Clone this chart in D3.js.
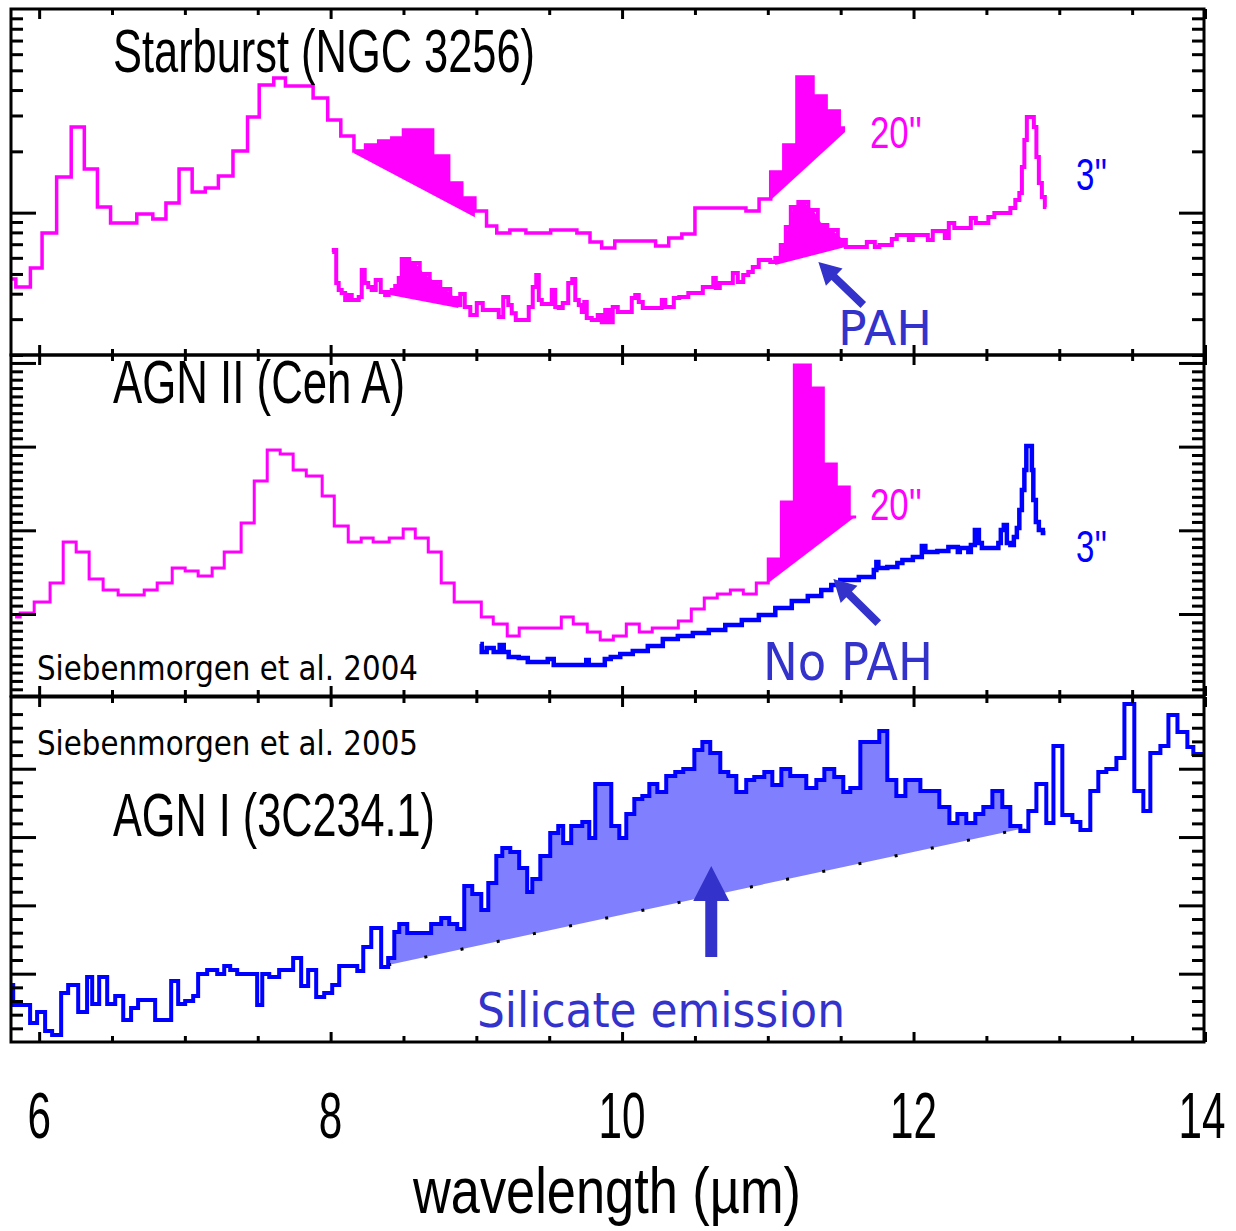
<!DOCTYPE html>
<html>
<head>
<meta charset="utf-8">
<script src="https://cdn.jsdelivr.net/npm/d3@7"></script>
<style>
  body { margin: 0; background: #fff; }
  svg { display: block; }
</style>
</head>
<body>
<svg id="chart" width="1236" height="1231"></svg>
<script>
// ---------------------------------------------------------------
// Mid-infrared spectra: Starburst (NGC 3256), AGN II (Cen A), AGN I (3C234.1)
// wavelength in micron, flux in arbitrary units per panel
// ---------------------------------------------------------------

// x-axis labels
const wavelengthTicks = [6, 8, 10, 12, 14];

// --- Panel 1: Starburst NGC 3256, 20" aperture (binned, log flux) ---
const sb20Edges = [5.81, 5.84, 5.94, 6.02, 6.12, 6.22, 6.31, 6.40, 6.49, 6.67, 6.78, 6.87, 6.96, 7.05,
  7.14, 7.23, 7.33, 7.43, 7.51, 7.61, 7.69, 7.88, 7.98, 8.07, 8.16, 8.24, 8.33, 8.42, 8.50, 8.70,
  8.81, 8.90, 8.99, 9.07, 9.14, 9.23, 9.34, 9.51, 9.69, 9.78, 9.86, 9.95, 10.23, 10.32, 10.41,
  10.50, 10.85, 10.94, 11.02, 11.11, 11.20, 11.31, 11.40, 11.49, 11.53];
const sb20Flux = [0.472, 0.431, 0.535, 0.795, 1.497, 2.634, 1.638, 1.066, 0.890, 0.985, 0.931, 1.115,
  1.638, 1.263, 1.321, 1.514, 2.008, 2.949, 4.234, 4.584, 4.186, 3.656, 2.851, 2.379, 2.008, 2.149,
  2.247, 2.325, 2.546, 1.897, 1.398, 1.180, 1.019, 0.860, 0.795, 0.822, 0.795, 0.822, 0.795, 0.718,
  0.671, 0.726, 0.686, 0.751, 0.786, 1.054, 1.019, 1.167, 1.584, 2.149, 4.636, 3.740, 3.156, 2.604];
// PAH bands on the 20" spectrum: [start, end] wavelength and continuum flux at each end
const sb20PahStart = [8.16, 11.02];
const sb20PahEnd = [8.99, 11.53];
const sb20ContStart = [1.96, 1.154];
const sb20ContEnd = [0.95, 2.489];

// Starburst NGC 3256, 3" aperture
const sb3Wave = [8.011, 8.032, 8.045, 8.066, 8.086, 8.114, 8.135, 8.155, 8.183, 8.203, 8.224, 8.244,
  8.272, 8.292, 8.327, 8.361, 8.388, 8.409, 8.430, 8.457, 8.478, 8.498, 8.581, 8.642, 8.718, 8.787,
  8.855, 8.876, 8.903, 8.938, 8.979, 9.027, 9.061, 9.143, 9.164, 9.205, 9.233, 9.253, 9.288, 9.349,
  9.370, 9.404, 9.418, 9.439, 9.459, 9.507, 9.528, 9.555, 9.576, 9.610, 9.651, 9.665, 9.693, 9.713,
  9.734, 9.747, 9.768, 9.816, 9.850, 9.871, 9.898, 9.919, 9.953, 9.988, 10.056, 10.077, 10.104,
  10.125, 10.159, 10.262, 10.283, 10.310, 10.345, 10.365, 10.420, 10.489, 10.537, 10.571, 10.619,
  10.633, 10.653, 10.688, 10.743, 10.777, 10.811, 10.852, 10.880, 10.914, 10.962, 11.003, 11.031,
  11.072, 11.106, 11.141, 11.175, 11.244, 11.312, 11.374, 11.443, 11.518, 11.553, 11.669, 11.690,
  11.724, 11.745, 11.786, 11.841, 11.861, 11.909, 11.957, 11.978, 12.012, 12.081, 12.115, 12.149,
  12.204, 12.225, 12.259, 12.300, 12.376, 12.410, 12.445, 12.500, 12.527, 12.582, 12.651, 12.678,
  12.719, 12.733, 12.754, 12.767, 12.788, 12.815, 12.836, 12.850, 12.870, 12.891, 12.911];
const sb3Flux = [0.641, 0.656, 0.451, 0.417, 0.403, 0.372, 0.394, 0.372, 0.372, 0.385, 0.523, 0.451,
  0.431, 0.417, 0.467, 0.408, 0.394, 0.408, 0.417, 0.436, 0.478, 0.592, 0.566, 0.500, 0.456, 0.422,
  0.381, 0.352, 0.399, 0.344, 0.314, 0.360, 0.333, 0.333, 0.307, 0.385, 0.352, 0.321, 0.297, 0.297,
  0.344, 0.431, 0.494, 0.372, 0.356, 0.356, 0.417, 0.344, 0.340, 0.360, 0.451, 0.472, 0.372, 0.352,
  0.325, 0.364, 0.304, 0.297, 0.314, 0.290, 0.333, 0.290, 0.344, 0.325, 0.325, 0.381, 0.394, 0.364,
  0.340, 0.340, 0.372, 0.344, 0.344, 0.381, 0.385, 0.403, 0.403, 0.431, 0.431, 0.478, 0.427, 0.451,
  0.451, 0.505, 0.456, 0.494, 0.511, 0.541, 0.586, 0.586, 0.573, 0.599, 0.694, 0.850, 1.066, 1.128,
  1.030, 0.870, 0.822, 0.734, 0.678, 0.678, 0.718, 0.718, 0.678, 0.694, 0.694, 0.742, 0.777, 0.777,
  0.734, 0.777, 0.777, 0.734, 0.813, 0.813, 0.751, 0.890, 0.841, 0.841, 0.941, 0.890, 0.890, 0.952,
  0.996, 0.996, 1.054, 1.154, 1.249, 1.676, 2.274, 2.949, 2.949, 2.634, 1.876, 1.398, 1.193, 1.066];
const sb3PahStart = [8.409, 11.051];
const sb3PahEnd = [8.876, 11.532];
const sb3ContStart = [0.394, 0.553];
const sb3ContEnd = [0.340, 0.678];

// --- Panel 2: AGN II Cen A, 20" aperture (binned) ---
const cen20Edges = [5.835, 5.870, 5.966, 6.075, 6.165, 6.254, 6.343, 6.439, 6.542, 6.721, 6.810,
  6.913, 7.002, 7.091, 7.187, 7.270, 7.386, 7.476, 7.565, 7.654, 7.743, 7.833, 7.942, 8.025, 8.121,
  8.210, 8.292, 8.402, 8.498, 8.581, 8.670, 8.759, 8.848, 9.034, 9.116, 9.212, 9.294, 9.583, 9.665,
  9.761, 9.850, 9.940, 10.029, 10.118, 10.207, 10.386, 10.475, 10.564, 10.653, 10.743, 10.832,
  10.921, 11.003, 11.093, 11.182, 11.292, 11.381, 11.470, 11.559, 11.606];
const cen20Flux = [0.964, 1.012, 1.143, 1.370, 1.860, 1.741, 1.418, 1.287, 1.227, 1.287, 1.370,
  1.550, 1.514, 1.454, 1.550, 1.741, 2.087, 2.589, 2.959, 2.912, 2.720, 2.649, 2.410, 2.051, 1.860,
  1.908, 1.860, 1.908, 2.016, 1.908, 1.741, 1.370, 1.143, 0.964, 0.881, 0.737, 0.833, 0.964, 0.881,
  0.785, 0.689, 0.737, 0.881, 0.785, 0.833, 0.916, 1.060, 1.191, 1.239, 1.287, 1.239, 1.370, 1.657,
  2.338, 3.975, 3.700, 2.792, 2.517, 2.159];
const cen20PahStart = [11.003];
const cen20PahEnd = [11.606];
const cen20ContStart = [1.370];
const cen20ContEnd = [2.171];

// AGN II Cen A, 3" aperture
const cen3Wave = [9.027, 9.047, 9.095, 9.143, 9.178, 9.198, 9.246, 9.336, 9.370, 9.473, 9.507,
  9.555, 9.747, 9.761, 9.782, 9.871, 9.892, 9.953, 10.022, 10.125, 10.228, 10.331, 10.434, 10.537,
  10.653, 10.763, 10.880, 10.997, 11.106, 11.223, 11.326, 11.408, 11.463, 11.532, 11.717, 11.738,
  11.752, 11.765, 11.875, 11.903, 11.944, 12.047, 12.067, 12.095, 12.232, 12.246, 12.301, 12.307,
  12.328, 12.369, 12.383, 12.404, 12.438, 12.459, 12.479, 12.575, 12.589, 12.609, 12.630, 12.651,
  12.678, 12.699, 12.719, 12.733, 12.754, 12.767, 12.781, 12.809, 12.815, 12.829, 12.850, 12.870,
  12.905];
const cen3Flux = [0.642, 0.546, 0.594, 0.546, 0.630, 0.546, 0.486, 0.474, 0.427, 0.427, 0.462,
  0.391, 0.391, 0.450, 0.391, 0.391, 0.462, 0.486, 0.522, 0.558, 0.618, 0.701, 0.737, 0.773, 0.809,
  0.869, 0.928, 0.988, 1.072, 1.155, 1.215, 1.287, 1.346, 1.406, 1.442, 1.526, 1.621, 1.550, 1.562,
  1.609, 1.645, 1.681, 1.812, 1.741, 1.753, 1.800, 1.800, 1.741, 1.789, 1.789, 1.741, 1.824, 2.004,
  1.848, 1.789, 1.789, 1.848, 2.004, 2.063, 1.848, 1.824, 1.920, 2.027, 2.243, 2.481, 2.720, 3.007,
  3.007, 2.720, 2.362, 2.099, 2.004, 1.968];

// --- Panel 3: AGN I 3C234.1 (binned) ---
const agn1Edges = [5.808, 5.822, 5.938, 5.986, 6.041, 6.089, 6.151, 6.199, 6.268, 6.329,
  6.364, 6.412, 6.467, 6.522, 6.577, 6.631, 6.679, 6.796, 6.906, 6.954,
  7.002, 7.057, 7.091, 7.153, 7.222, 7.270, 7.311, 7.359, 7.496, 7.531,
  7.579, 7.647, 7.743, 7.798, 7.846, 7.901, 7.956, 8.011, 8.059, 8.183,
  8.224, 8.279, 8.347, 8.395, 8.437, 8.471, 8.526, 8.690, 8.759, 8.814,
  8.869, 8.917, 8.972, 9.034, 9.082, 9.137, 9.178, 9.233, 9.294, 9.349,
  9.384, 9.439, 9.507, 9.562, 9.596, 9.651, 9.727, 9.775, 9.816, 9.926,
  9.981, 10.029, 10.084, 10.139, 10.187, 10.242, 10.303, 10.365, 10.420, 10.496,
  10.551, 10.605, 10.674, 10.729, 10.784, 10.852, 10.907, 10.976, 11.031, 11.093,
  11.154, 11.264, 11.333, 11.388, 11.456, 11.518, 11.566, 11.635, 11.765, 11.820,
  11.882, 11.944, 12.047, 12.177, 12.246, 12.301, 12.362, 12.424, 12.479, 12.541,
  12.609, 12.664, 12.733, 12.788, 12.843, 12.911, 12.960, 13.021, 13.090, 13.145,
  13.213, 13.268, 13.323, 13.392, 13.447, 13.515, 13.577, 13.625, 13.694, 13.749,
  13.811, 13.879, 13.920, 14.0];
const agn1Flux = [0.835, 0.542, 0.278, 0.439, 0.161, 0.102, 0.717, 0.835, 0.439, 0.952,
  0.556, 0.952, 0.556, 0.673, 0.322, 0.498, 0.615, 0.322, 0.893, 0.556,
  0.600, 0.673, 0.996, 1.054, 0.996, 1.113, 1.054, 0.996, 0.542, 0.996,
  0.952, 1.054, 1.230, 0.820, 1.054, 0.659, 0.717, 0.835, 1.113, 1.040,
  1.391, 1.669, 1.098, 1.230, 1.611, 1.728, 1.596, 1.728, 1.816, 1.728,
  1.654, 2.284, 2.167, 1.933, 2.328, 2.723, 2.840, 2.782, 2.548, 2.196,
  2.387, 2.723, 3.060, 3.163, 2.914, 3.163, 3.221, 2.987, 3.777, 3.163,
  2.987, 3.338, 3.558, 3.602, 3.777, 3.660, 3.895, 3.953, 3.997, 4.275,
  4.392, 4.231, 3.953, 3.895, 3.660, 3.836, 3.880, 3.953, 3.763, 3.997,
  3.895, 3.719, 3.836, 3.997, 3.880, 3.660, 3.719, 4.392, 4.553, 3.836,
  3.602, 3.836, 3.675, 3.441, 3.206, 3.338, 3.206, 3.338, 3.441, 3.675,
  3.441, 3.163, 3.089, 3.382, 3.777, 3.206, 4.334, 3.324, 3.221, 3.104,
  3.675, 3.953, 3.997, 4.158, 4.949, 3.675, 3.382, 4.231, 4.334, 4.788,
  4.539, 4.319, 4.217];
// silicate emission above the power-law continuum
const agn1SilStart = [8.395];
const agn1SilEnd = [12.767];
const agn1ContStart = [1.127];
const agn1ContEnd = [3.133];

// annotation arrows: [wavelength, flux] of tail and tip
const pahArrowTail = [11.655, 0.352], pahArrowTip = [11.347, 0.573];
const noPahArrowTail = [11.758, 0.892], noPahArrowTip = [11.450, 1.418];
const silArrowTail = [10.612, 1.245], silArrowTip = [10.612, 2.577];

// ---------------------------------------------------------------
const MAGENTA = "#ff00ff", BLUE = "#0000ff", SIL_FILL = "#8080ff", NOTE = "#3333cc";
const narrowFont = "'Liberation Sans Narrow', 'Liberation Sans', Arial, sans-serif";
const plainFont = "'Liberation Sans', Arial, sans-serif";
const handFont = "'DejaVu Sans', 'Noto Sans', sans-serif";

const svg = d3.select("#chart");
const frameX0 = 11, frameX1 = 1204;
const x = d3.scaleLinear().domain([5.8, 14]).range([10, 1205]);

const panels = [
  { id: "sb",  y0: 9,   y1: 355, y: d3.scaleLog().domain([0.2, 10]).range([355, 9]),
    major: [1], minor: [0.2, 0.3, 0.4, 0.5, 0.6, 0.7, 0.8, 0.9, 2, 3, 4, 5, 6, 7, 8, 9] },
  { id: "cen", y0: 355, y1: 696, y: d3.scaleLinear().domain([0.02, 4.095]).range([696, 355]),
    major: [1, 2, 3, 4], minor: d3.range(1, 41).map(i => i / 10).filter(v => Math.abs(v - Math.round(v)) > 1e-6) },
  { id: "agn", y0: 697, y1: 1042, y: d3.scaleLinear().domain([0, 5.05]).range([1042, 697]),
    major: [1, 2, 3, 4], minor: d3.range(1, 25).map(i => i / 5).filter(v => Math.abs(v - Math.round(v)) > 1e-6) }
];

const defs = svg.append("defs");
panels.forEach(p => {
  defs.append("clipPath").attr("id", "clip-" + p.id)
    .append("rect").attr("x", frameX0).attr("y", p.y0)
    .attr("width", frameX1 - frameX0).attr("height", p.y1 - p.y0);
});

// helpers -------------------------------------------------------
function stepPoints(edges, vals) {
  const n = Math.min(edges.length - 1, vals.length), pts = [];
  for (let i = 0; i < n; i++) { pts.push([edges[i], vals[i]], [edges[i + 1], vals[i]]); }
  return pts;
}
function zip(ws, fs) {
  const n = Math.min(ws.length, fs.length);
  return d3.range(n).map(i => [ws[i], fs[i]]);
}
function interp(ws, fs, w) {
  for (let i = 0; i < ws.length - 1; i++) {
    if (w >= ws[i] && w <= ws[i + 1]) {
      const t = (w - ws[i]) / (ws[i + 1] - ws[i]);
      return fs[i] + t * (fs[i + 1] - fs[i]);
    }
  }
  return fs[fs.length - 1];
}
// band between binned spectrum (top) and straight continuum (bottom)
function binnedBand(edges, vals, w0, w1, c0, c1) {
  const pts = [[w0, c0]];
  for (let i = 0; i < vals.length; i++) {
    const a = Math.max(edges[i], w0), b = Math.min(edges[i + 1], w1);
    if (a < b) pts.push([a, vals[i]], [b, vals[i]]);
  }
  pts.push([w1, c1]);
  return pts;
}
function sampledBand(ws, fs, w0, w1, c0, c1) {
  const pts = [[w0, c0], [w0, interp(ws, fs, w0)]];
  ws.forEach((w, i) => { if (w > w0 && w < w1) pts.push([w, fs[i]]); });
  pts.push([w1, interp(ws, fs, w1)], [w1, c1]);
  return pts;
}
function lineGen(y) { return d3.line().x(d => x(d[0])).y(d => y(d[1])); }

function arrow(g, y, tail, tip, shaft, headW, headL) {
  const x1 = x(tail[0]), y1 = y(tail[1]), x2 = x(tip[0]), y2 = y(tip[1]);
  const len = Math.hypot(x2 - x1, y2 - y1), dx = (x2 - x1) / len, dy = (y2 - y1) / len;
  const nx = -dy, ny = dx, bx = x2 - dx * headL, by = y2 - dy * headL;
  const p = [
    [x1 + nx * shaft / 2, y1 + ny * shaft / 2], [bx + nx * shaft / 2, by + ny * shaft / 2],
    [bx + nx * headW / 2, by + ny * headW / 2], [x2, y2],
    [bx - nx * headW / 2, by - ny * headW / 2], [bx - nx * shaft / 2, by - ny * shaft / 2],
    [x1 - nx * shaft / 2, y1 - ny * shaft / 2]];
  g.append("path").attr("d", "M" + p.map(q => q.join(",")).join("L") + "Z").attr("fill", NOTE);
}
function label(g, str, px, py, size, width, color, font, anchor) {
  g.append("text").attr("x", px).attr("y", py)
    .attr("font-family", font).attr("font-size", size).attr("fill", color)
    .attr("text-anchor", anchor || "start")
    .attr("textLength", width).attr("lengthAdjust", "spacingAndGlyphs")
    .text(str);
}

// panel groups ------------------------------------------------
const gSb = svg.append("g").attr("clip-path", "url(#clip-sb)");
const gCen = svg.append("g").attr("clip-path", "url(#clip-cen)");
const gAgn = svg.append("g").attr("clip-path", "url(#clip-agn)");
const ySb = panels[0].y, yCen = panels[1].y, yAgn = panels[2].y;

// Starburst: 20" PAH fills + spectrum
sb20PahStart.forEach((w0, i) => {
  gSb.append("path")
    .attr("d", lineGen(ySb)(binnedBand(sb20Edges, sb20Flux, w0, sb20PahEnd[i], sb20ContStart[i], sb20ContEnd[i])) + "Z")
    .attr("fill", MAGENTA);
});
gSb.append("path").attr("d", lineGen(ySb)(stepPoints(sb20Edges, sb20Flux)))
  .attr("fill", "none").attr("stroke", MAGENTA).attr("stroke-width", 3.5);
// Starburst: 3" PAH fills + spectrum
sb3PahStart.forEach((w0, i) => {
  gSb.append("path")
    .attr("d", lineGen(ySb)(sampledBand(sb3Wave, sb3Flux, w0, sb3PahEnd[i], sb3ContStart[i], sb3ContEnd[i])) + "Z")
    .attr("fill", MAGENTA);
});
gSb.append("path").attr("d", lineGen(ySb).curve(d3.curveStep)(zip(sb3Wave, sb3Flux)))
  .attr("fill", "none").attr("stroke", MAGENTA).attr("stroke-width", 4);

// Cen A: 20" PAH fill + spectrum, 3" spectrum
cen20PahStart.forEach((w0, i) => {
  gCen.append("path")
    .attr("d", lineGen(yCen)(binnedBand(cen20Edges, cen20Flux, w0, cen20PahEnd[i], cen20ContStart[i], cen20ContEnd[i])) + "Z")
    .attr("fill", MAGENTA);
});
gCen.append("path").attr("d", lineGen(yCen)(stepPoints(cen20Edges, cen20Flux)))
  .attr("fill", "none").attr("stroke", MAGENTA).attr("stroke-width", 3);
gCen.append("path").attr("d", lineGen(yCen).curve(d3.curveStep)(zip(cen3Wave, cen3Flux)))
  .attr("fill", "none").attr("stroke", BLUE).attr("stroke-width", 4.5);

// 3C234.1: silicate emission fill, continuum, spectrum
agn1SilStart.forEach((w0, i) => {
  gAgn.append("path")
    .attr("d", lineGen(yAgn)(binnedBand(agn1Edges, agn1Flux, w0, agn1SilEnd[i], agn1ContStart[i], agn1ContEnd[i])) + "Z")
    .attr("fill", SIL_FILL);
  gAgn.append("path")
    .attr("d", lineGen(yAgn)([[w0, agn1ContStart[i]], [agn1SilEnd[i], agn1ContEnd[i]]]))
    .attr("fill", "none").attr("stroke", "#000").attr("stroke-width", 3)
    .attr("stroke-dasharray", "3 34");
});
gAgn.append("path").attr("d", lineGen(yAgn)(stepPoints(agn1Edges, agn1Flux)))
  .attr("fill", "none").attr("stroke", BLUE).attr("stroke-width", 4);

// ticks and frames ------------------------------------------------
const xTicks = d3.range(6, 14.001, 0.5);
const xMajor = xTicks.filter(v => v % 2 === 0), xMinor = xTicks.filter(v => v % 2 !== 0);
function styleAxis(g) {
  g.select(".domain").remove();
  g.selectAll("line").attr("stroke", "#000").attr("stroke-width", 3);
  g.selectAll("text").remove();
}
const axes = svg.append("g");
panels.forEach(p => {
  [[xMinor, 6], [xMajor, 10]].forEach(([vals, len]) => {
    axes.append("g").attr("transform", `translate(0,${p.y0})`)
      .call(d3.axisTop(x).tickValues(vals).tickSize(-len)).call(styleAxis);
    axes.append("g").attr("transform", `translate(0,${p.y1})`)
      .call(d3.axisBottom(x).tickValues(vals).tickSize(-len)).call(styleAxis);
  });
  [[p.minor, 12], [p.major, 25]].forEach(([vals, len]) => {
    axes.append("g").attr("transform", `translate(${frameX0},0)`)
      .call(d3.axisLeft(p.y).tickValues(vals).tickSize(-len)).call(styleAxis);
    axes.append("g").attr("transform", `translate(${frameX1},0)`)
      .call(d3.axisRight(p.y).tickValues(vals).tickSize(-len)).call(styleAxis);
  });
  axes.append("rect").attr("x", frameX0).attr("y", p.y0)
    .attr("width", frameX1 - frameX0).attr("height", p.y1 - p.y0)
    .attr("fill", "none").attr("stroke", "#000").attr("stroke-width", 3);
});

// x tick labels: condensed digits made by squeezing a regular face horizontally
const xLab = svg.append("g");
wavelengthTicks.forEach((v, i) => {
  const last = i === wavelengthTicks.length - 1;
  xLab.append("text")
    .attr("transform", `translate(${last ? x(v) - 3 : x(v)},1138) scale(0.66,1)`)
    .attr("font-family", plainFont).attr("font-size", 64).attr("fill", "#000")
    .attr("text-anchor", "middle")
    .text(String(v));
});
label(xLab, "wavelength (\u00b5m)", 413, 1213, 64, 388, "#000", narrowFont);

// annotations ------------------------------------------------------
const notes = svg.append("g");
label(notes, "Starburst (NGC 3256)", 113, 72, 62, 422, "#000", narrowFont);
label(notes, "AGN II (Cen A)", 113, 403, 62, 292, "#000", narrowFont);
label(notes, "AGN I (3C234.1)", 113, 836, 62, 322, "#000", narrowFont);
label(notes, "20''", 870, 148, 45, 52, MAGENTA, narrowFont);
label(notes, "3''", 1076, 190, 45, 31, BLUE, narrowFont);
label(notes, "20''", 870, 520, 45, 52, MAGENTA, narrowFont);
label(notes, "3''", 1076, 562, 45, 31, BLUE, narrowFont);
label(notes, "Siebenmorgen et al. 2004", 37, 680, 34, 381, "#000", handFont);
label(notes, "Siebenmorgen et al. 2005", 37, 755, 34, 381, "#000", handFont);
label(notes, "PAH", 838, 345, 48, 94, NOTE, handFont);
label(notes, "No PAH", 763, 680, 52, 170, NOTE, handFont);
label(notes, "Silicate emission", 477, 1027, 48, 368, NOTE, handFont);

arrow(notes, ySb, pahArrowTail, pahArrowTip, 8, 24, 22);
arrow(notes, yCen, noPahArrowTail, noPahArrowTip, 8, 24, 22);
arrow(notes, yAgn, silArrowTail, silArrowTip, 12, 36, 35);
</script>
</body>
</html>
